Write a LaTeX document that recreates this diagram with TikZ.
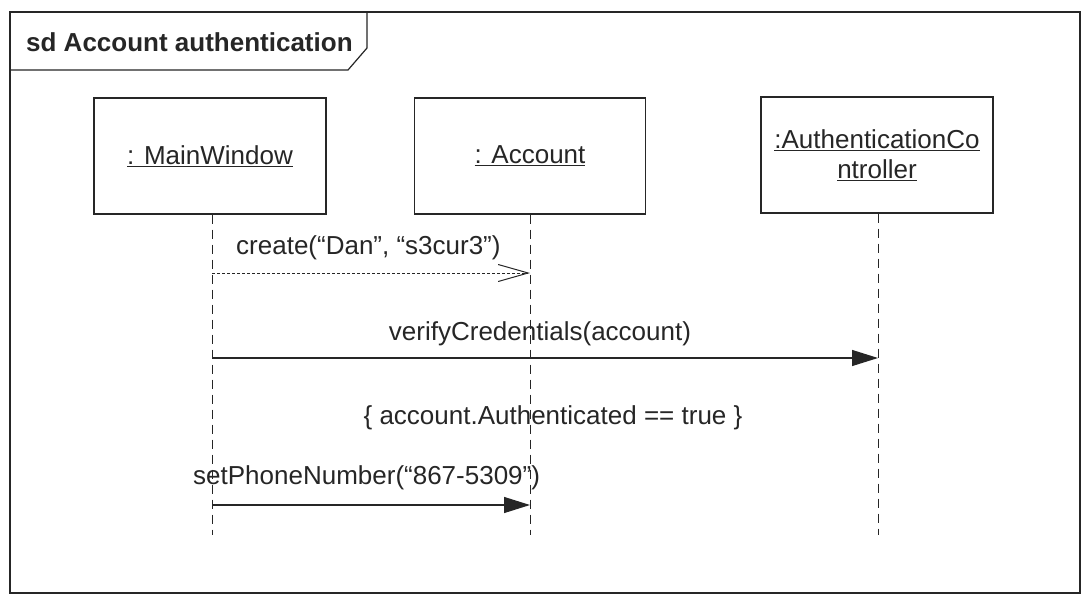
\documentclass[tikz,border=0pt]{standalone}
\usepackage{fontspec}
\setmainfont{Liberation Sans}
\usetikzlibrary{arrows.meta}
\definecolor{ink}{HTML}{262626}
\begin{document}
\begin{tikzpicture}[x=1pt,y=-1pt,
  every node/.style={text=ink,font=\fontsize{26}{31}\selectfont},
  frameline/.style={draw=ink,line width=1.2pt},
  objbox/.style={draw=ink,line width=1.2pt,minimum width=232pt,minimum height=116pt,inner sep=0pt,align=center},
  lifeline/.style={draw=ink,line width=0.9pt,dash pattern=on 9pt off 6pt},
  syncmsg/.style={draw=ink,line width=1.2pt,-{Triangle[length=26pt,width=16pt]}},
  createmsg/.style={draw=ink,line width=0.9pt,dash pattern=on 3pt off 2pt,-{Straight Barb[length=30pt,width=17pt,line width=1pt]}},
  lbl/.style={inner sep=0pt,anchor=base}]
\useasboundingbox (0,0) rectangle (1090,600);
\fill[white] (0,0) rectangle (1090,600);
% frame
\draw[frameline] (10,12) rectangle (1080,593);
\draw[frameline] (10,70) -- (348,70) -- (367,48) -- (367,12);
\node[lbl,font=\fontsize{26}{31}\selectfont\bfseries,anchor=base west] (title) at (26,51) {sd Account authentication};
% objects
\node[objbox] (mw) at (210,156) {\underline{: MainWindow}};
\node[objbox,minimum width=231pt] (acc) at (530,156) {\underline{: Account}};
\node[objbox] (auth) at (877,155) {\underline{:AuthenticationCo}\\[-1pt]\underline{ntroller}};
% lifeline ends
\coordinate (mwend) at (212,535);
\coordinate (accend) at (530,535);
\coordinate (authend) at (878,535);
\draw[lifeline] (mw.south -| mwend) -- (mwend);
\draw[lifeline] (acc.south -| accend) -- (accend);
\draw[lifeline] (auth.south -| authend) -- (authend);
% message endpoints
\coordinate (m1a) at (212,273); \coordinate (m1b) at (530,273);
\coordinate (m2a) at (212,358); \coordinate (m2b) at (878,358);
\coordinate (m3a) at (212,505); \coordinate (m3b) at (530,505);
\draw[createmsg] (m1a) -- (m1b);
\draw[syncmsg] (m2a) -- (m2b);
\draw[syncmsg] (m3a) -- (m3b);
% labels
\node[lbl,anchor=base west] (l1) at (236,254) {create(“Dan”, “s3cur3”)};
\node[lbl] (l2) at (540,340) {verifyCredentials(account)};
\node[lbl] (l3) at (553,424) {\{ account.Authenticated == true \}};
\node[lbl,anchor=base west] (l4) at (193,484) {setPhoneNumber(“867-5309”)};
\end{tikzpicture}
\end{document}
